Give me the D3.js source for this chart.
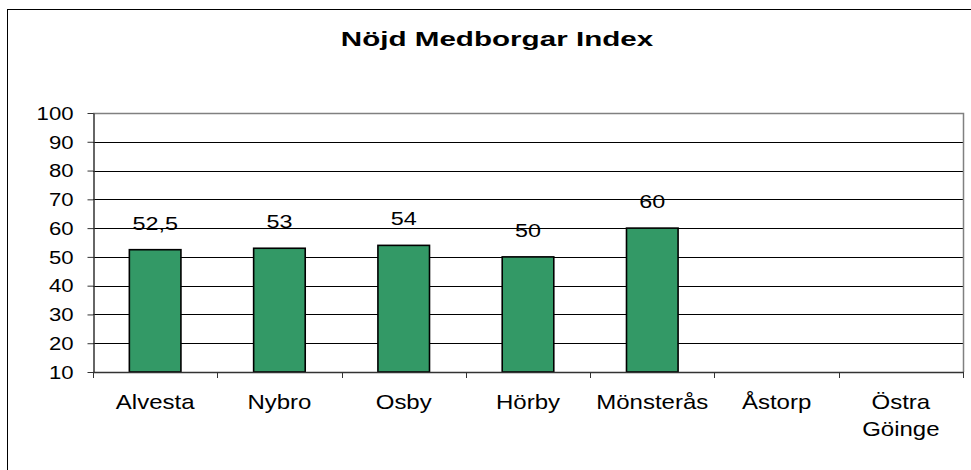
<!DOCTYPE html>
<html>
<head>
<meta charset="utf-8">
<script src="https://cdn.jsdelivr.net/npm/d3@7"></script>
<style>
  html, body { margin: 0; padding: 0; background: #fff; }
  svg { display: block; }
  text { font-family: "Liberation Sans", Arial, sans-serif; fill: #000; }
</style>
</head>
<body>
<svg id="chart" width="971" height="470"></svg>
<script>
const title = "Nöjd Medborgar Index";
const categories = ["Alvesta", "Nybro", "Osby", "Hörby", "Mönsterås", "Åstorp", "Östra Göinge"];
const categoryLines = [["Alvesta"], ["Nybro"], ["Osby"], ["Hörby"], ["Mönsterås"], ["Åstorp"], ["Östra", "Göinge"]];
const values = [52.5, 53, 54, 50, 60, null, null];
const valueLabels = ["52,5", "53", "54", "50", "60", "", ""];
const yTicks = [10, 20, 30, 40, 50, 60, 70, 80, 90, 100];

const svg = d3.select("#chart");
const plot = { left: 93, right: 963, top: 113, bottom: 372 };
const SX = 1.23;

// outer chart border (cropped at right/bottom)
svg.append("rect")
  .attr("x", 7.5).attr("y", 9.5).attr("width", 1000).attr("height", 500)
  .attr("fill", "#fff").attr("stroke", "#000").attr("stroke-width", 1);

const x = d3.scaleBand().domain(categories).range([plot.left, plot.right]).padding(0);
const y = d3.scaleLinear().domain([10, 100]).range([plot.bottom, plot.top]);

// title
svg.append("text")
  .attr("transform", `translate(497,46) scale(1.41,1)`)
  .attr("text-anchor", "middle")
  .style("font-weight", "bold")
  .style("font-size", "21px")
  .text(title);

// gridlines
svg.append("g").selectAll("line")
  .data(yTicks.filter(d => d > 10 && d < 100))
  .join("line")
  .attr("x1", plot.left).attr("x2", plot.right)
  .attr("y1", d => Math.round(y(d)) + 0.5).attr("y2", d => Math.round(y(d)) + 0.5)
  .attr("stroke", "#000").attr("stroke-width", 1);

// plot area border top/right (grey)
svg.append("path")
  .attr("d", `M${plot.left},${plot.top + 0.5}H${plot.right + 0.5}V${plot.bottom}`)
  .attr("fill", "none").attr("stroke", "#808080").attr("stroke-width", 1.5);

// bars
const barW = x.bandwidth() * 0.415;
svg.append("g").selectAll("rect")
  .data(categories.map((c, i) => ({ c, v: values[i] })).filter(d => d.v != null))
  .join("rect")
  .attr("x", d => x(d.c) + (x.bandwidth() - barW) / 2)
  .attr("y", d => y(d.v))
  .attr("width", barW)
  .attr("height", d => y(10) - y(d.v))
  .attr("fill", "#339966")
  .attr("stroke", "#000")
  .attr("stroke-width", 1.6);

// value labels
svg.append("g").selectAll("text")
  .data(categories.map((c, i) => ({ c, v: values[i], l: valueLabels[i] })).filter(d => d.v != null))
  .join("text")
  .attr("transform", d => `translate(${x(d.c) + x.bandwidth() / 2},${y(d.v) - 20}) scale(${SX},1)`)
  .attr("text-anchor", "middle")
  .style("font-size", "19px")
  .text(d => d.l);

// y axis
const yAxis = d3.axisLeft(y).tickValues(yTicks).tickSizeInner(6).tickSizeOuter(0).tickFormat(d3.format("d"));
const yg = svg.append("g").attr("transform", `translate(${plot.left + 0.5},0)`).call(yAxis);
yg.select(".domain").attr("stroke", "#333").attr("stroke-width", 1.5);
yg.selectAll(".tick line").attr("stroke", "#333");
yg.selectAll(".tick text")
  .attr("x", -20 / SX)
  .attr("dy", "0.35em")
  .attr("transform", `scale(${SX},1)`)
  .style("font-size", "18px")
  .style("font-family", "'Liberation Sans', Arial, sans-serif")
  .attr("fill", "#000");

// x axis
const boundaries = categories.map(c => x(c)).concat([plot.right]);
const xg = svg.append("g");
xg.append("line")
  .attr("x1", plot.left).attr("x2", plot.right + 1)
  .attr("y1", plot.bottom + 0.5).attr("y2", plot.bottom + 0.5)
  .attr("stroke", "#333").attr("stroke-width", 1.5);
xg.selectAll("line.tk").data(boundaries).join("line").attr("class", "tk")
  .attr("x1", d => Math.round(d) + 0.5).attr("x2", d => Math.round(d) + 0.5)
  .attr("y1", plot.bottom).attr("y2", plot.bottom + 6)
  .attr("stroke", "#333");
const xl = xg.selectAll("g.lab").data(categories.map((c, i) => ({ c, lines: categoryLines[i] }))).join("g").attr("class", "lab")
  .attr("transform", d => `translate(${x(d.c) + x.bandwidth() / 2},409) scale(1.2,1)`);
xl.selectAll("text").data(d => d.lines).join("text")
  .attr("text-anchor", "middle")
  .attr("y", (d, i) => i * 27)
  .style("font-size", "20px")
  .text(d => d);
</script>
</body>
</html>
